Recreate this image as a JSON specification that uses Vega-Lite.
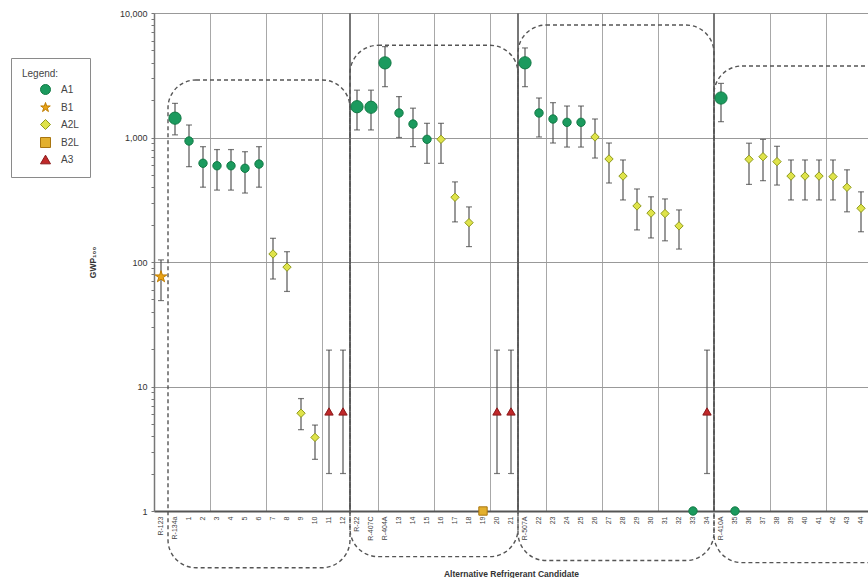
{
  "$schema": "https://vega.github.io/schema/vega-lite/v6.json",
  "width": 714,
  "height": 498,
  "autosize": {"type": "none"},
  "padding": {"left": 154, "top": 13, "right": 0, "bottom": 67},
  "config": {"view": {"stroke": null}, "font": "Liberation Sans"},
  "datasets": {
    "candidates": [
      {"idx": 1, "name": "R-123", "cls": "B1", "gwp": 76, "lo": 49, "hi": 104, "ref": "baseline"},
      {"idx": 2, "name": "R-134a", "cls": "A1", "gwp": 1430, "lo": 1050, "hi": 1880, "ref": "baseline"},
      {"idx": 3, "name": "1", "cls": "A1", "gwp": 937, "lo": 583, "hi": 1260, "ref": "candidate"},
      {"idx": 4, "name": "2", "cls": "A1", "gwp": 621, "lo": 399, "hi": 844, "ref": "candidate"},
      {"idx": 5, "name": "3", "cls": "A1", "gwp": 593, "lo": 378, "hi": 800, "ref": "candidate"},
      {"idx": 6, "name": "4", "cls": "A1", "gwp": 593, "lo": 378, "hi": 800, "ref": "candidate"},
      {"idx": 7, "name": "5", "cls": "A1", "gwp": 566, "lo": 358, "hi": 769, "ref": "candidate"},
      {"idx": 8, "name": "6", "cls": "A1", "gwp": 612, "lo": 399, "hi": 844, "ref": "candidate"},
      {"idx": 9, "name": "7", "cls": "A2L", "gwp": 116, "lo": 73, "hi": 155, "ref": "candidate"},
      {"idx": 10, "name": "8", "cls": "A2L", "gwp": 91, "lo": 58, "hi": 121, "ref": "candidate"},
      {"idx": 11, "name": "9", "cls": "A2L", "gwp": 6.1, "lo": 4.5, "hi": 8, "ref": "candidate"},
      {"idx": 12, "name": "10", "cls": "A2L", "gwp": 3.9, "lo": 2.6, "hi": 4.9, "ref": "candidate"},
      {"idx": 13, "name": "11", "cls": "A3", "gwp": 6.3, "lo": 2, "hi": 19.6, "ref": "candidate"},
      {"idx": 14, "name": "12", "cls": "A3", "gwp": 6.3, "lo": 2, "hi": 19.6, "ref": "candidate"},
      {"idx": 15, "name": "R-22", "cls": "A1", "gwp": 1767, "lo": 1150, "hi": 2400, "ref": "baseline"},
      {"idx": 16, "name": "R-407C", "cls": "A1", "gwp": 1750, "lo": 1150, "hi": 2400, "ref": "baseline"},
      {"idx": 17, "name": "R-404A", "cls": "A1", "gwp": 3975, "lo": 2560, "hi": 5370, "ref": "baseline"},
      {"idx": 18, "name": "13", "cls": "A1", "gwp": 1574, "lo": 1000, "hi": 2130, "ref": "candidate"},
      {"idx": 19, "name": "14", "cls": "A1", "gwp": 1283, "lo": 845, "hi": 1720, "ref": "candidate"},
      {"idx": 20, "name": "15", "cls": "A1", "gwp": 967, "lo": 620, "hi": 1300, "ref": "candidate"},
      {"idx": 21, "name": "16", "cls": "A2L", "gwp": 967, "lo": 620, "hi": 1300, "ref": "candidate"},
      {"idx": 22, "name": "17", "cls": "A2L", "gwp": 331, "lo": 210, "hi": 440, "ref": "candidate"},
      {"idx": 23, "name": "18", "cls": "A2L", "gwp": 207, "lo": 133, "hi": 277, "ref": "candidate"},
      {"idx": 24, "name": "19", "cls": "B2L", "gwp": 1, "lo": null, "hi": null, "ref": "candidate"},
      {"idx": 25, "name": "20", "cls": "A3", "gwp": 6.3, "lo": 2, "hi": 19.6, "ref": "candidate"},
      {"idx": 26, "name": "21", "cls": "A3", "gwp": 6.3, "lo": 2, "hi": 19.6, "ref": "candidate"},
      {"idx": 27, "name": "R-507A", "cls": "A1", "gwp": 3980, "lo": 2560, "hi": 5240, "ref": "baseline"},
      {"idx": 28, "name": "22", "cls": "A1", "gwp": 1574, "lo": 1010, "hi": 2076, "ref": "candidate"},
      {"idx": 29, "name": "23", "cls": "A1", "gwp": 1408, "lo": 903, "hi": 1905, "ref": "candidate"},
      {"idx": 30, "name": "24", "cls": "A1", "gwp": 1324, "lo": 838, "hi": 1790, "ref": "candidate"},
      {"idx": 31, "name": "25", "cls": "A1", "gwp": 1324, "lo": 838, "hi": 1790, "ref": "candidate"},
      {"idx": 32, "name": "26", "cls": "A2L", "gwp": 1010, "lo": 684, "hi": 1408, "ref": "candidate"},
      {"idx": 33, "name": "27", "cls": "A2L", "gwp": 672, "lo": 431, "hi": 903, "ref": "candidate"},
      {"idx": 34, "name": "28", "cls": "A2L", "gwp": 490, "lo": 315, "hi": 660, "ref": "candidate"},
      {"idx": 35, "name": "29", "cls": "A2L", "gwp": 282, "lo": 181, "hi": 386, "ref": "candidate"},
      {"idx": 36, "name": "30", "cls": "A2L", "gwp": 247, "lo": 156, "hi": 334, "ref": "candidate"},
      {"idx": 37, "name": "31", "cls": "A2L", "gwp": 245, "lo": 148, "hi": 321, "ref": "candidate"},
      {"idx": 38, "name": "32", "cls": "A2L", "gwp": 195, "lo": 127, "hi": 262, "ref": "candidate"},
      {"idx": 39, "name": "33", "cls": "A1", "gwp": 1, "lo": null, "hi": null, "ref": "candidate"},
      {"idx": 40, "name": "34", "cls": "A3", "gwp": 6.3, "lo": 2, "hi": 19.6, "ref": "candidate"},
      {"idx": 41, "name": "R-410A", "cls": "A1", "gwp": 2076, "lo": 1340, "hi": 2720, "ref": "baseline"},
      {"idx": 42, "name": "35", "cls": "A1", "gwp": 1, "lo": null, "hi": null, "ref": "candidate"},
      {"idx": 43, "name": "36", "cls": "A2L", "gwp": 668, "lo": 420, "hi": 900, "ref": "candidate"},
      {"idx": 44, "name": "37", "cls": "A2L", "gwp": 701, "lo": 450, "hi": 965, "ref": "candidate"},
      {"idx": 45, "name": "38", "cls": "A2L", "gwp": 640, "lo": 415, "hi": 850, "ref": "candidate"},
      {"idx": 46, "name": "39", "cls": "A2L", "gwp": 490, "lo": 315, "hi": 660, "ref": "candidate"},
      {"idx": 47, "name": "40", "cls": "A2L", "gwp": 490, "lo": 315, "hi": 660, "ref": "candidate"},
      {"idx": 48, "name": "41", "cls": "A2L", "gwp": 490, "lo": 315, "hi": 660, "ref": "candidate"},
      {"idx": 49, "name": "42", "cls": "A2L", "gwp": 485, "lo": 315, "hi": 660, "ref": "candidate"},
      {"idx": 50, "name": "43", "cls": "A2L", "gwp": 398, "lo": 253, "hi": 550, "ref": "candidate"},
      {"idx": 51, "name": "44", "cls": "A2L", "gwp": 270, "lo": 175, "hi": 366, "ref": "candidate"}
    ],
    "groups": [
      {"grp": "G1", "x1": 1.5, "x2": 14.5, "top": 2900, "bottom": 0.35},
      {"grp": "G2", "x1": 14.5, "x2": 26.5, "top": 5500, "bottom": 0.43},
      {"grp": "G3", "x1": 26.5, "x2": 40.5, "top": 8000, "bottom": 0.4},
      {"grp": "G4", "x1": 40.5, "x2": 53.5, "top": 3750, "bottom": 0.385}
    ],
    "dividers": [{"pos": 14.5}, {"pos": 26.5}, {"pos": 40.5}]
  },
  "layer": [
    {
      "layer": [
        {
          "data": {"name": "dividers"},
          "mark": {"type": "rule", "color": "#777777", "strokeWidth": 2},
          "encoding": {
            "x": {
              "field": "pos", "type": "quantitative", "title": null,
              "scale": {"domain": [0.5, 51.5], "nice": false, "zero": false},
              "axis": {
                "orient": "top",
                "values": [0.5, 2.5, 4.5, 6.5, 8.5, 10.5, 12.5, 14.5, 16.5, 18.5, 20.5, 22.5, 24.5, 26.5, 28.5, 30.5, 32.5, 34.5, 36.5, 38.5, 40.5, 42.5, 44.5, 46.5, 48.5, 50.5],
                "grid": true, "gridColor": "#a8a8a8", "gridWidth": 1,
                "labels": false, "ticks": false, "domain": false, "title": null
              }
            }
          }
        },
        {
          "data": {"name": "groups"},
          "mark": {"type": "rect", "fill": "transparent", "stroke": "#555555", "strokeWidth": 1.4, "strokeDash": [4, 3], "cornerRadius": 28},
          "encoding": {
            "x": {"field": "x1", "type": "quantitative", "title": null},
            "x2": {"field": "x2"},
            "y": {"field": "top", "type": "quantitative", "title": "GWP₁₀₀", "scale": {"type": "log", "domain": [1, 10000], "nice": false}},
            "y2": {"field": "bottom"}
          }
        }
      ]
    },
    {
      "data": {"name": "candidates"},
      "encoding": {
        "x": {
          "field": "name", "type": "nominal",
          "sort": {"field": "idx", "op": "min"},
          "scale": {"type": "band", "paddingInner": 0, "paddingOuter": 0},
          "axis": {
            "labelAngle": 270, "labelFontSize": 7, "labelColor": "#444444", "labelPadding": 5,
            "ticks": false, "grid": false, "domainColor": "#555555", "domainWidth": 2,
            "title": "Alternative Refrigerant Candidate", "titleFontSize": 8.5, "titleFontWeight": "bold",
            "titleColor": "#333333", "titlePadding": 29
          }
        }
      },
      "layer": [
        {
          "mark": {"type": "rule", "color": "#555555", "strokeWidth": 1.2},
          "encoding": {
            "y": {"field": "lo", "type": "quantitative", "title": "GWP₁₀₀", "scale": {"type": "log", "domain": [1, 10000], "nice": false}},
            "y2": {"field": "hi"}
          }
        },
        {
          "mark": {"type": "tick", "orient": "horizontal", "size": 6, "thickness": 1.2, "color": "#444444"},
          "encoding": {
            "y": {"field": "lo", "type": "quantitative", "title": "GWP₁₀₀", "scale": {"type": "log", "domain": [1, 10000], "nice": false}}
          }
        },
        {
          "mark": {"type": "tick", "orient": "horizontal", "size": 6, "thickness": 1.2, "color": "#444444"},
          "encoding": {
            "y": {"field": "hi", "type": "quantitative", "title": "GWP₁₀₀", "scale": {"type": "log", "domain": [1, 10000], "nice": false}}
          }
        },
        {
          "mark": {"type": "point", "filled": true, "strokeWidth": 1, "opacity": 1},
          "encoding": {
            "y": {
              "field": "gwp", "type": "quantitative", "title": "GWP₁₀₀",
              "scale": {"type": "log", "domain": [1, 10000], "nice": false},
              "axis": {
                "values": [1, 2, 3, 4, 5, 6, 7, 8, 9, 10, 20, 30, 40, 50, 60, 70, 80, 90, 100, 200, 300, 400, 500, 600, 700, 800, 900, 1000, 2000, 3000, 4000, 5000, 6000, 7000, 8000, 9000, 10000],
                "labelExpr": "indexof([1,10,100,1000,10000], datum.value) >= 0 ? format(datum.value, ',') : ''",
                "labelOverlap": false,
                "gridOpacity": {"condition": {"test": "indexof([1,10,100,1000,10000], datum.value) >= 0", "value": 1}, "value": 0},
                "gridColor": "#999999", "gridWidth": 1,
                "domainColor": "#777777", "domainWidth": 1.5,
                "tickColor": "#777777", "tickSize": 3,
                "labelFontSize": 9, "labelColor": "#333333", "labelPadding": 4,
                "titleFontSize": 8.5, "titleFontWeight": "bold", "titleColor": "#333333", "titlePadding": 22
              }
            },
            "shape": {
              "field": "cls", "type": "nominal", "title": "Legend:",
              "scale": {
                "domain": ["A1", "B1", "A2L", "B2L", "A3"],
                "range": ["circle", "M0,-1L0.2245,-0.309L0.951,-0.309L0.363,0.118L0.588,0.809L0,0.382L-0.588,0.809L-0.363,0.118L-0.951,-0.309L-0.2245,-0.309Z", "diamond", "square", "triangle-up"]
              },
              "legend": {
                "orient": "none", "legendX": -143, "legendY": 45,
                "strokeColor": "#8a8a8a", "fillColor": "white", "padding": 11,
                "titleFontSize": 10, "titleFontWeight": "normal", "titleColor": "#444444", "titlePadding": 5,
                "labelFontSize": 10, "labelColor": "#444444",
                "symbolSize": 100, "symbolOffset": 18, "labelOffset": 10, "rowPadding": 3, "symbolStrokeWidth": 1
              }
            },
            "fill": {
              "field": "cls", "type": "nominal", "title": "Legend:",
              "scale": {"domain": ["A1", "B1", "A2L", "B2L", "A3"], "range": ["#1b9a5e", "#e8a317", "#dfe34a", "#e3b02e", "#c0282a"]}
            },
            "stroke": {
              "field": "cls", "type": "nominal", "title": "Legend:",
              "scale": {"domain": ["A1", "B1", "A2L", "B2L", "A3"], "range": ["#127a45", "#c07d00", "#8f9a1c", "#a87510", "#8a1a1a"]}
            },
            "size": {"condition": {"test": "datum.ref === 'baseline'", "value": 150}, "value": 70}
          }
        }
      ]
    }
  ],
  "resolve": {"scale": {"x": "independent"}, "axis": {"x": "independent"}}
}
